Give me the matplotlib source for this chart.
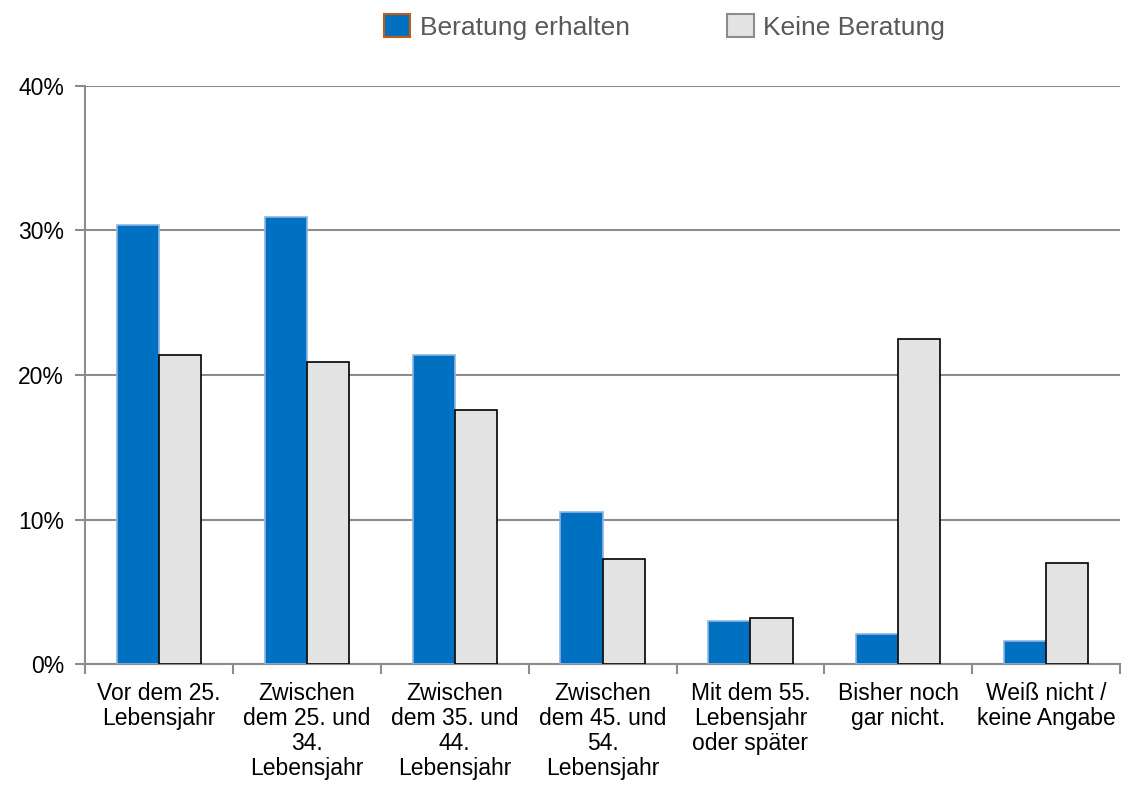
import numpy as np
import matplotlib.pyplot as plt
from matplotlib.patches import Patch

plt.rcParams['font.family'] = ['Liberation Sans', 'DejaVu Sans']

categories = ['Vor dem 25.\nLebensjahr',
              'Zwischen\ndem 25. und\n34.\nLebensjahr',
              'Zwischen\ndem 35. und\n44.\nLebensjahr',
              'Zwischen\ndem 45. und\n54.\nLebensjahr',
              'Mit dem 55.\nLebensjahr\noder später',
              'Bisher noch\ngar nicht.',
              'Weiß nicht /\nkeine Angabe']
beratung = [30.4, 30.9, 21.4, 10.5, 3.0, 2.1, 1.6]
keine = [21.4, 20.9, 17.6, 7.3, 3.2, 22.5, 7.0]

fig = plt.figure(figsize=(11.28, 7.88), dpi=100)
ax = fig.add_axes([0.0754, 0.157, 0.9176, 0.734])

x = np.arange(len(categories))
w = 0.285
ax.bar(x - w/2, beratung, w, color='#0070c0', edgecolor='#8eb4e3', linewidth=1.2, zorder=3)
ax.bar(x + w/2, keine, w, color='#e3e3e3', edgecolor='black', linewidth=1.2, zorder=3)

ax.set_xlim(-0.5, len(categories) - 0.5)
ax.set_ylim(0, 40)
ax.set_yticks([0, 10, 20, 30, 40])
ax.set_yticklabels(['0%', '10%', '20%', '30%', '40%'], fontsize=16.5)
ax.yaxis.grid(True, color='#8c8c8c', linewidth=1.5, zorder=0)

ax.set_xticks(np.arange(len(categories) + 1) - 0.5)
ax.set_xticklabels([])
ax.set_xticks(x, minor=True)
ax.set_xticklabels(categories, minor=True, fontsize=16.5, linespacing=1.1)
ax.tick_params(axis='x', which='minor', length=0, pad=13)
ax.tick_params(axis='x', which='major', length=7, width=1.5, color='#8c8c8c', direction='out')
ax.tick_params(axis='y', length=7, width=1.5, color='#8c8c8c', pad=8)

for s in ['top', 'right']:
    ax.spines[s].set_visible(False)
for s in ['left', 'bottom']:
    ax.spines[s].set_color('#8c8c8c')
    ax.spines[s].set_linewidth(1.5)

handles = [Patch(facecolor='#0070c0', edgecolor='#c55a11', linewidth=1.5),
           Patch(facecolor='#e3e3e3', edgecolor='#8c8c8c', linewidth=1.5)]
fig.legend(handles, ['Beratung erhalten', 'Keine Beratung'], loc='center',
           bbox_to_anchor=(0.589, 0.966), ncol=2, frameon=False, fontsize=19,
           labelcolor='#595959', handlelength=1.0, handleheight=1.0,
           handletextpad=0.35, columnspacing=3.7)

fig.savefig('out.png', dpi=100)
